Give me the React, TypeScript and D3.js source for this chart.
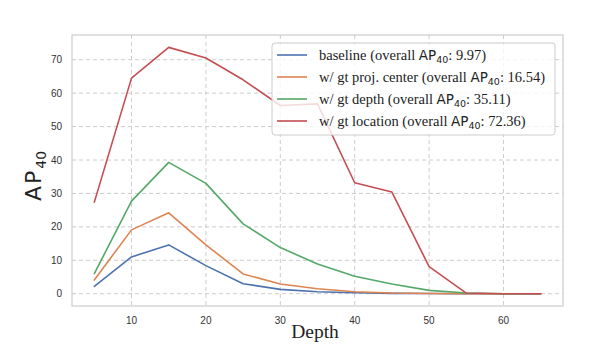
import React, { useEffect, useRef } from "react";
import * as d3 from "d3";

// depth bins
const depths = [5, 10, 15, 20, 25, 30, 35, 40, 45, 50, 55, 60, 65];

const baseline = [2.2, 11.0, 14.6, 8.4, 3.0, 1.3, 0.6, 0.3, 0.1, 0.05, 0, 0, 0];
const gtCenter = [4.1, 19.1, 24.2, 14.6, 5.9, 2.9, 1.5, 0.6, 0.2, 0.05, 0, 0, 0];
const gtDepth = [6.0, 27.7, 39.3, 33.0, 20.9, 13.8, 8.9, 5.2, 2.9, 1.0, 0.2, 0, 0];
const gtLocation = [27.4, 64.5, 73.7, 70.5, 64.0, 56.3, 56.8, 33.2, 30.4, 8.1, 0.2, 0, 0];

const seriesNames = [
  ["baseline (overall ", "9.97)"],
  ["w/ gt proj. center (overall ", "16.54)"],
  ["w/ gt depth (overall ", "35.11)"],
  ["w/ gt location (overall ", "72.36)"],
];
const colors = ["#4c72b0", "#dd8452", "#55a868", "#c44e52"];

const xTicks = [10, 20, 30, 40, 50, 60];
const yTicks = [0, 10, 20, 30, 40, 50, 60, 70];

const W = 610, H = 351;
const margin = { left: 72, top: 35, right: 47, bottom: 45 };

export default function App() {
  const ref = useRef<SVGSVGElement>(null);

  useEffect(() => {
    const svg = d3.select(ref.current);
    svg.selectAll("*").remove();

    const x = d3.scaleLinear().domain([2, 68]).range([margin.left, W - margin.right]);
    const y = d3.scaleLinear().domain([-3.68, 77.4]).range([H - margin.bottom, margin.top]);

    const serif = "'Liberation Serif', 'Times New Roman', serif";
    const sans = "'DejaVu Sans', sans-serif";
    const tickFont = "'Liberation Sans', Arial, sans-serif";

    // grid
    const grid = svg.append("g");
    grid.selectAll("line.gx").data(xTicks).enter().append("line")
      .attr("x1", d => x(d)).attr("x2", d => x(d))
      .attr("y1", margin.top).attr("y2", H - margin.bottom)
      .attr("stroke", "#cccccc").attr("stroke-dasharray", "4,3").attr("stroke-width", 1);
    grid.selectAll("line.gy").data(yTicks).enter().append("line")
      .attr("y1", d => y(d)).attr("y2", d => y(d))
      .attr("x1", margin.left).attr("x2", W - margin.right)
      .attr("stroke", "#cccccc").attr("stroke-dasharray", "4,3").attr("stroke-width", 1);

    // frame
    svg.append("rect")
      .attr("x", margin.left).attr("y", margin.top)
      .attr("width", W - margin.left - margin.right)
      .attr("height", H - margin.top - margin.bottom)
      .attr("fill", "none").attr("stroke", "#cccccc").attr("stroke-width", 1.2);

    // tick labels
    svg.selectAll("text.xt").data(xTicks).enter().append("text")
      .attr("x", d => x(d)).attr("y", H - margin.bottom + 18)
      .attr("text-anchor", "middle").attr("font-family", tickFont)
      .attr("font-size", 10).attr("fill", "#333").text(d => d);
    svg.selectAll("text.yt").data(yTicks).enter().append("text")
      .attr("x", margin.left - 10).attr("y", d => y(d)).attr("dy", "0.35em")
      .attr("text-anchor", "end").attr("font-family", tickFont)
      .attr("font-size", 10).attr("fill", "#333").text(d => d);

    // lines
    const all = [baseline, gtCenter, gtDepth, gtLocation];
    const line = d3.line<number>().x((d, i) => x(depths[i])).y(d => y(d));
    all.forEach((s, i) => {
      svg.append("path").datum(s).attr("d", line)
        .attr("fill", "none").attr("stroke", colors[i]).attr("stroke-width", 1.6)
        .attr("stroke-linejoin", "round").attr("stroke-linecap", "round");
    });

    // legend
    const lg = svg.append("g");
    lg.append("rect").attr("x", 272).attr("y", 43).attr("width", 283).attr("height", 92)
      .attr("rx", 3).attr("fill", "white").attr("fill-opacity", 0.8)
      .attr("stroke", "#cccccc").attr("stroke-width", 1);
    seriesNames.forEach((n, i) => {
      const cy = 55 + i * 22;
      lg.append("line").attr("x1", 277).attr("x2", 307).attr("y1", cy).attr("y2", cy)
        .attr("stroke", colors[i]).attr("stroke-width", 1.6);
      const t = lg.append("text").attr("x", 319).attr("y", cy + 5)
        .style("font-family", serif).attr("font-size", 14.5).attr("fill", "#222");
      t.append("tspan").text(n[0]);
      t.append("tspan").style("font-family", sans).attr("font-size", 13.5).text("AP");
      t.append("tspan").style("font-family", sans).attr("font-size", 9.5).attr("dy", 3).text("40");
      t.append("tspan").attr("dy", -3).text(": " + n[1]);
    });

    // axis labels
    svg.append("text").attr("x", 315).attr("y", 338)
      .attr("text-anchor", "middle").style("font-family", serif).attr("font-size", 19.5)
      .attr("fill", "#222").text("Depth");
    const yl = svg.append("text").attr("transform", "translate(41,176) rotate(-90)")
      .attr("text-anchor", "middle").style("font-family", sans).attr("font-size", 22).attr("fill", "#222");
    yl.append("tspan").attr("letter-spacing", 2).text("AP");
    yl.append("tspan").attr("font-size", 14).attr("dy", 5).text("40");
  }, []);

  return (
    <svg ref={ref} width={W} height={H}
      style={{ position: "absolute", left: 0, top: 0, background: "white" }} />
  );
}
